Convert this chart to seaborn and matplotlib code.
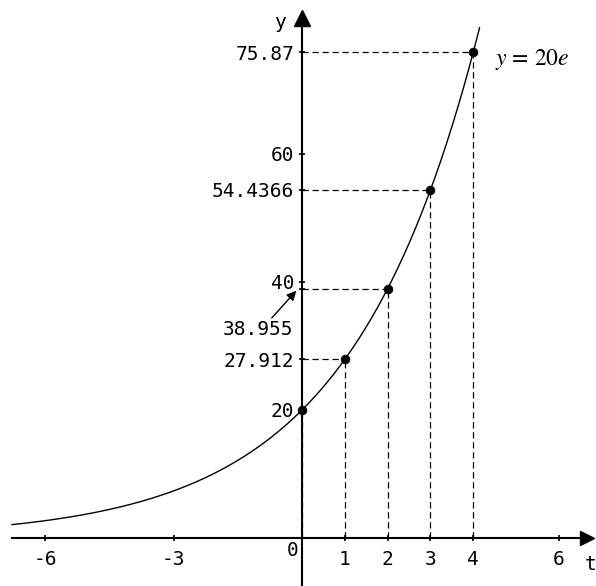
import matplotlib
matplotlib.use("Agg")
import matplotlib.pyplot as plt
import seaborn as sns
import numpy as np
import pandas as pd

# --- data ---
t_points = [0, 1, 2, 3, 4]
y_points = [20, 27.912, 38.956, 54.4366, 75.87]
y_tick_vals = [20, 27.912, 38.956, 40, 54.4366, 60, 75.87]
y_tick_labels = ["20", "27.912", "", "40", "54.4366", "60", "75.87"]
x_tick_vals = [-6, -3, 1, 2, 3, 4, 6]
x_tick_labels = ["-6", "-3", "1", "2", "3", "4", "6"]
growth = 1 / 3          # y = 20 e^(t/3)
t_curve = np.linspace(-6.78, 4.15, 300)
curve = pd.DataFrame({"t": t_curve, "y": 20 * np.exp(growth * t_curve)})
points = pd.DataFrame({"t": t_points, "y": y_points})

sns.set_style("white")
plt.rcParams["font.family"] = ["DejaVu Sans Mono", "DejaVu Sans"]
plt.rcParams["text.color"] = "black"
plt.rcParams["mathtext.fontset"] = "stix"

fig = plt.figure(figsize=(5.96, 5.86), dpi=100)
ax = fig.add_axes([0, 0, 1, 1])
ax.set_xlim(-7.056, 6.869)
ax.set_ylim(-7.5, 84.06)

# curve and points
sns.lineplot(data=curve, x="t", y="y", color="black", lw=1.0, ax=ax)
sns.scatterplot(data=points, x="t", y="y", color="black", s=40, edgecolor="black",
                zorder=5, ax=ax)

# dashed guides
dash = (0, (5, 3))
ax.hlines(points["y"], 0, points["t"], colors="black", lw=0.9, linestyles=dash)
ax.vlines(points["t"], 0, points["y"], colors="black", lw=0.9, linestyles=dash)

# axes through the origin
for s in ["top", "right"]:
    ax.spines[s].set_visible(False)
ax.spines["left"].set_position(("data", 0))
ax.spines["bottom"].set_position(("data", 0))
ax.spines["left"].set_bounds(-7.5, 81)
ax.spines["bottom"].set_bounds(-6.78, 6.6)
for s in ["left", "bottom"]:
    ax.spines[s].set_linewidth(1.5)
    ax.spines[s].set_color("black")
ax.plot(6.66, 0, marker=">", ms=10, color="black", clip_on=False)
ax.plot(0, 81.2, marker="^", ms=11, color="black", clip_on=False)

ax.set_xticks(x_tick_vals)
ax.set_xticklabels(x_tick_labels, fontsize=14)
ax.set_yticks(y_tick_vals)
ax.set_yticklabels(y_tick_labels, fontsize=14)
ax.tick_params(axis="both", direction="inout", length=5, width=1.2, colors="black",
               bottom=True, left=True)
ax.tick_params(axis="x", pad=6)
ax.tick_params(axis="y", pad=3)
ax.set_xlabel("")
ax.set_ylabel("")

# extra labels
ax.text(-0.23, -1.9, "0", ha="center", va="center", fontsize=14)
ax.text(-0.51, 80.6, "y", ha="center", va="center", fontsize=14)
ax.text(6.75, -4.2, "t", ha="center", va="center", fontsize=14)
ax.text(-0.21, 32.5, "38.955", ha="right", va="center", fontsize=14)
ax.annotate("", xy=(-0.09, 38.956), xytext=(-0.75, 34.06),
            arrowprops=dict(arrowstyle="-|>", color="black", lw=1, mutation_scale=14))
ax.text(4.5, 74.8, r"$y$ = 20$e$", ha="left", va="center", fontsize=17,
        family="STIXGeneral")

fig.savefig("out.png", dpi=100)
